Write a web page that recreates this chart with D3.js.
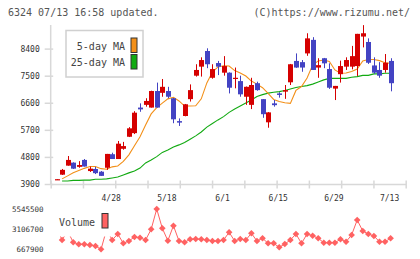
<!DOCTYPE html>
<html>
<head>
<meta charset="utf-8">
<script src="https://cdn.jsdelivr.net/npm/d3@7"></script>
<style>
  body { margin: 0; background: #fff; }
  svg text { font-family: "DejaVu Sans Mono", monospace; }
</style>
</head>
<body>
<div id="viz"></div>
<script>
// price data, one entry per trading day (4/14 .. 7/13)
var openP  = [4040,4210,4510,4610,4470,4700,4330,4400,4310,4440,4890,4730,5070,5470,5590,6440,6530,6440,6990,6930,
              6990,6750,5990,6160,6720,7500,7800,8320,7430,7920,7600,7600,7400,7320,6800,6530,7250,6720,5950,6580,
              6910,6970,7280,7990,7950,8240,8690,7770,8080,7720,7070,7550,7800,7800,7820,8800,8620,7840,7690,7690,7990]
var highP  = [4060,4400,4830,4620,4660,4730,4480,4470,4330,4900,4940,5330,5300,5790,6320,6580,6750,7000,7270,7390,
              7130,6760,6080,6560,7210,7880,8110,8410,7880,7990,8150,7610,7770,7500,7140,7430,7300,6720,6290,6690,
              6950,7190,7890,8240,8020,8910,8780,8080,8090,7910,7160,8000,8110,8490,8890,9180,8740,8110,7950,8220,8080]
var lowP   = [4040,4200,4510,4400,4440,4480,4300,4230,4170,4370,4730,4730,5040,5460,5560,6300,6470,6440,6440,6800,
              6750,5920,5830,6150,6640,7470,7470,7750,7400,7520,7500,6910,7080,6800,6530,6390,7000,6100,5770,6470,
              6770,6730,7190,7760,7630,8160,7690,7430,7750,7060,6690,7270,7690,7710,7490,8440,7890,7560,7430,7600,6980]
var closeP = [4060,4370,4700,4410,4530,4480,4410,4260,4170,4900,4730,5240,5160,5750,6270,6380,6660,6990,6440,7130,
              6800,6050,5940,6550,7020,7690,8020,7880,7720,7800,7820,7100,7430,6880,7130,7190,7020,6220,6280,6520,
              6860,7020,7880,7770,7770,8740,7690,7850,7910,7100,7160,7820,8020,8150,8890,8910,7930,7600,7500,7930,7250]

var ma5  = [null,4070,4170,4270,4350,4420,4480,4480,4410,4390,4470,4500,4650,4870,5170,5470,5860,6230,6440,6590,
            6730,6780,6660,6490,6490,6500,6730,7260,7620,7790,7830,7820,7670,7590,7490,7320,7220,7100,6910,6710,
            6640,6600,6580,7010,7140,7420,7850,7990,8020,7970,7690,7580,7590,7640,7720,7990,8040,8040,8000,7930,7910]
var ma25 = [null,4000,4000,4020,4020,4030,4030,4060,4060,4070,4100,4130,4200,4270,4330,4430,4600,4700,4810,4950,
            5030,5130,5200,5280,5390,5500,5630,5790,5910,6030,6140,6280,6390,6490,6590,6690,6810,6870,6920,6950,
            6970,7010,7060,7110,7140,7170,7220,7290,7360,7410,7410,7410,7410,7450,7470,7510,7510,7560,7560,7580,7580]

var volume = [3300000,1793000,2880000,1515000,1273000,1273000,1188000,1067000,667900,3076000,
              1793000,2520000,1394000,1672000,2157000,2072000,1793000,3088000,5545500,3210000,
              1709000,3524000,1672000,1515000,1878000,1915000,1878000,1793000,1672000,1672000,
              1793000,2725000,1672000,1915000,1793000,2604000,1672000,2000000,1394000,1394000,
              910000,1309000,1793000,2520000,1394000,2520000,2314000,2000000,1467000,1467000,
              1467000,1878000,1588000,2399000,4214000,2883000,2520000,2278000,1588000,1588000,2000000]

var dateLabels = ['4/28','5/18','6/1','6/15','6/29','7/13']
var dateIdx = [10,20,30,40,50,60]
var yTicks = [3900,4800,5700,6600,7500,8400]
var volTicks = [667900,3106700,5545500]

const w = 420, h = 259
var red = '#d50000', blue = '#4343c3', orange = '#f39019', green = '#12aa12', pink = '#ff6262'

var svg = d3.select('#viz').append('svg').attr('width', w).attr('height', h)

var x = d3.scaleLinear().domain([0, 60]).range([56.5, 390.6])
var y = d3.scaleLinear().domain([3900, 8400]).range([184, 48.6])
var yv = d3.scaleLinear().domain([667900, 5545500]).range([249.3, 209])

// header
svg.append('text').attr('x', 8).attr('y', 16).attr('font-size', 10).attr('fill', '#555')
  .text('6324 07/13 16:58 updated.')
svg.append('text').attr('x', 410).attr('y', 16).attr('font-size', 10).attr('fill', '#555')
  .attr('text-anchor', 'end').text('(C)https://www.rizumu.net/')

// y axis
svg.append('line').attr('x1', 50.7).attr('x2', 50.7).attr('y1', 25).attr('y2', 184)
  .attr('stroke', '#d8d8d8').attr('stroke-width', 1.5)

var yT = svg.append('g').attr('transform', 'translate(50.7,0)')
  .call(d3.axisLeft(y).tickValues(yTicks).tickFormat(d3.format('d'))
    .tickSizeInner(6).tickSizeOuter(0).tickPadding(5))
yT.select('.domain').remove()
yT.selectAll('.tick line').attr('x1', 2.5).attr('stroke', '#d8d8d8').attr('stroke-width', 1.5)
yT.selectAll('.tick text').attr('font-size', 8).attr('fill', '#333')
  .attr('font-family', '"DejaVu Sans Mono", monospace').attr('x', -11)

// x axis (plain grid ticks)
var xg = d3.scaleLinear().domain([0, 11]).range([50.7, 405.7])
var xAx = svg.append('g').attr('transform', 'translate(0,184)')
  .call(d3.axisBottom(xg).tickValues(d3.range(12)).tickFormat('').tickSizeOuter(0).tickSizeInner(4.5))
xAx.select('.domain').attr('stroke', '#d8d8d8').attr('stroke-width', 1.5)
xAx.selectAll('.tick line').attr('y1', -3.5).attr('stroke', '#d8d8d8').attr('stroke-width', 1.5)

// date labels
svg.selectAll('.dlab').data(dateLabels).enter().append('text')
  .attr('class', 'dlab')
  .attr('x', (d, i) => x(dateIdx[i]) - 1)
  .attr('y', 200.5)
  .attr('text-anchor', 'middle').attr('font-size', 8).attr('fill', '#333')
  .text(d => d)

// moving averages
var line = d3.line().defined(d => d != null).x((d, i) => x(i)).y(d => y(d))
svg.append('path').datum(ma25).attr('d', line).attr('fill', 'none').attr('stroke', green).attr('stroke-width', 1.1)
svg.append('path').datum(ma5).attr('d', line).attr('fill', 'none').attr('stroke', orange).attr('stroke-width', 1.1)

// candles
var idx = d3.range(openP.length)
var col = i => closeP[i] >= openP[i] ? red : blue
svg.selectAll('.wick').data(idx).enter().append('line')
  .attr('class', 'wick')
  .attr('x1', i => Math.round(x(i)) + 0.5).attr('x2', i => Math.round(x(i)) + 0.5)
  .attr('y1', i => y(highP[i])).attr('y2', i => y(lowP[i]))
  .attr('stroke', col).attr('stroke-width', 1)
svg.selectAll('.body').data(idx).enter().append('rect')
  .attr('class', 'body')
  .attr('x', i => Math.round(x(i)) - 2)
  .attr('width', 5)
  .attr('y', i => y(Math.max(openP[i], closeP[i])))
  .attr('height', i => Math.max(1.2, Math.abs(y(openP[i]) - y(closeP[i]))))
  .attr('fill', col)

// legend
svg.append('rect').attr('x', 66).attr('y', 30.5).attr('width', 77).attr('height', 46.5)
  .attr('fill', '#fff').attr('stroke', '#d0d0d0').attr('stroke-width', 1.5)
var leg = [['5-day MA', orange], ['25-day MA', green]]
leg.forEach(function(l, i) {
  svg.append('text').attr('x', 125).attr('y', 49.5 + i * 16.5).attr('text-anchor', 'end')
    .attr('font-size', 10).attr('fill', '#444').text(l[0])
  svg.append('rect').attr('x', 131).attr('y', 38 + i * 16.5).attr('width', 6).attr('height', 14.5)
    .attr('fill', l[1]).attr('stroke', '#333').attr('stroke-width', 1)
})

// volume panel
svg.append('path').datum(volume)
  .attr('d', d3.line().x((d, i) => x(i)).y(d => yv(d)))
  .attr('fill', 'none').attr('stroke', pink).attr('stroke-width', 1)
svg.selectAll('.vpt').data(volume).enter().append('path')
  .attr('class', 'vpt')
  .attr('d', d3.symbol(d3.symbolSquare, 22))
  .attr('transform', (d, i) => 'translate(' + x(i) + ',' + yv(d) + ') rotate(45)')
  .attr('fill', pink)

// volume legend (white box covers the line behind it)
svg.append('rect').attr('x', 53).attr('y', 203).attr('width', 60).attr('height', 33.5).attr('fill', '#fff')
svg.append('text').attr('x', 59).attr('y', 225.5).attr('font-size', 10).attr('fill', '#444').text('Volume')
svg.append('rect').attr('x', 102).attr('y', 213.5).attr('width', 6).attr('height', 14.5)
  .attr('fill', pink).attr('stroke', '#333').attr('stroke-width', 1)

svg.selectAll('.vlab').data(volTicks).enter().append('text')
  .attr('class', 'vlab')
  .attr('x', 43.5).attr('y', d => yv(d)).attr('dy', '0.35em')
  .attr('text-anchor', 'end').attr('font-size', 7.5).attr('fill', '#333')
  .text(d => d)
</script>
</body>
</html>
